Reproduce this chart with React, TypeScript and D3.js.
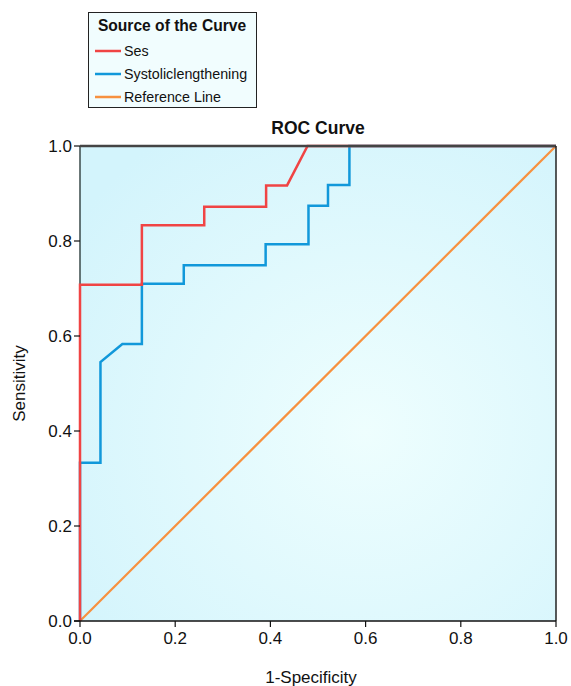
import React from "react";
import * as d3 from "d3";

const sesX = [0, 0, 0.13, 0.13, 0.261, 0.261, 0.391, 0.391, 0.435, 0.478, 1];
const sesY = [0, 0.708, 0.708, 0.833, 0.833, 0.872, 0.872, 0.917, 0.917, 1, 1];
const sysX = [0, 0, 0.043, 0.043, 0.089, 0.13, 0.13, 0.218, 0.218, 0.39, 0.39, 0.48, 0.48, 0.521, 0.521, 0.566, 0.566, 1];
const sysY = [0, 0.333, 0.333, 0.545, 0.583, 0.583, 0.71, 0.71, 0.749, 0.749, 0.793, 0.793, 0.874, 0.874, 0.918, 0.918, 1, 1];
const refX = [0, 1];
const refY = [0, 1];
const ticks = [0, 0.2, 0.4, 0.6, 0.8, 1.0];
const seriesNames = ["Ses", "Systoliclengthening", "Reference Line"];
const seriesColors = ["#f04444", "#1198da", "#f7913f"];

export default function App() {
  const L = 80, R = 556, T = 146, B = 621;
  const x = d3.scaleLinear().domain([0, 1]).range([L, R]);
  const y = d3.scaleLinear().domain([0, 1]).range([B, T]);
  const line = d3.line<[number, number]>().x(d => x(d[0])).y(d => y(d[1]));
  const zip = (a: number[], b: number[]) => a.map((v, i) => [v, b[i]] as [number, number]);
  const font = "'Liberation Sans', Arial, sans-serif";
  return (
    <svg width={571} height={686} style={{ display: "block", position: "absolute", left: 0, top: 0 }} fontFamily={font}>
      <defs>
        <radialGradient id="bg" cx="0.6" cy="0.6" r="0.75">
          <stop offset="0" stopColor="#eefefe" />
          <stop offset="1" stopColor="#d3f4fc" />
        </radialGradient>
      </defs>
      <rect x={0} y={0} width={571} height={686} fill="#ffffff" />
      {/* legend */}
      <rect x={88.5} y={12.5} width={168} height={95} fill="#f1fdfe" stroke="#222" strokeWidth={1} />
      <text x={172} y={31} textAnchor="middle" fontWeight="bold" fontSize={15.6} fill="#111">Source of the Curve</text>
      {seriesNames.map((n, i) => (
        <g key={n}>
          <line x1={95} x2={121} y1={51 + i * 23} y2={51 + i * 23} stroke={seriesColors[i]} strokeWidth={2.5} />
          <text x={124} y={56 + i * 23} fontSize={14.3} fill="#111">{n}</text>
        </g>
      ))}
      <text x={318} y={134} textAnchor="middle" fontWeight="bold" fontSize={17.5} fill="#111">ROC Curve</text>
      <rect x={L} y={T} width={R - L} height={B - T} fill="url(#bg)" />
      <line x1={L} x2={L} y1={T} y2={B} stroke="#3a4a4a" strokeWidth={1.5} />
      <path d={line(zip(refX, refY)) || ""} fill="none" stroke={seriesColors[2]} strokeWidth={2.2} />
      <path d={line(zip(sysX, sysY)) || ""} fill="none" stroke={seriesColors[1]} strokeWidth={2.5} />
      <path d={line(zip(sesX, sesY)) || ""} fill="none" stroke={seriesColors[0]} strokeWidth={2.5} />
      <line x1={L} x2={R} y1={T} y2={T} stroke="#444" strokeWidth={2.5} />
      <line x1={R} x2={R} y1={T} y2={B} stroke="#222" strokeWidth={1.5} />
      <line x1={L - 6} x2={R} y1={B} y2={B} stroke="#111" strokeWidth={1.5} />
      {ticks.map(t => (
        <g key={"x" + t}>
          <line x1={x(t)} x2={x(t)} y1={B} y2={B + 6} stroke="#111" strokeWidth={1.2} />
          <text x={x(t)} y={B + 23} textAnchor="middle" fontSize={17} fill="#111">{t.toFixed(1)}</text>
        </g>
      ))}
      {ticks.map(t => (
        <g key={"y" + t}>
          <line x1={L - 6} x2={L} y1={y(t)} y2={y(t)} stroke="#111" strokeWidth={1.2} />
          <text x={L - 8} y={y(t) + 6} textAnchor="end" fontSize={17} fill="#111">{t.toFixed(1)}</text>
        </g>
      ))}
      <text x={311} y={683} textAnchor="middle" fontSize={17} fill="#111">1-Specificity</text>
      <text transform={`translate(25,${(T + B) / 2}) rotate(-90)`} textAnchor="middle" fontSize={17} fill="#111">Sensitivity</text>
    </svg>
  );
}
